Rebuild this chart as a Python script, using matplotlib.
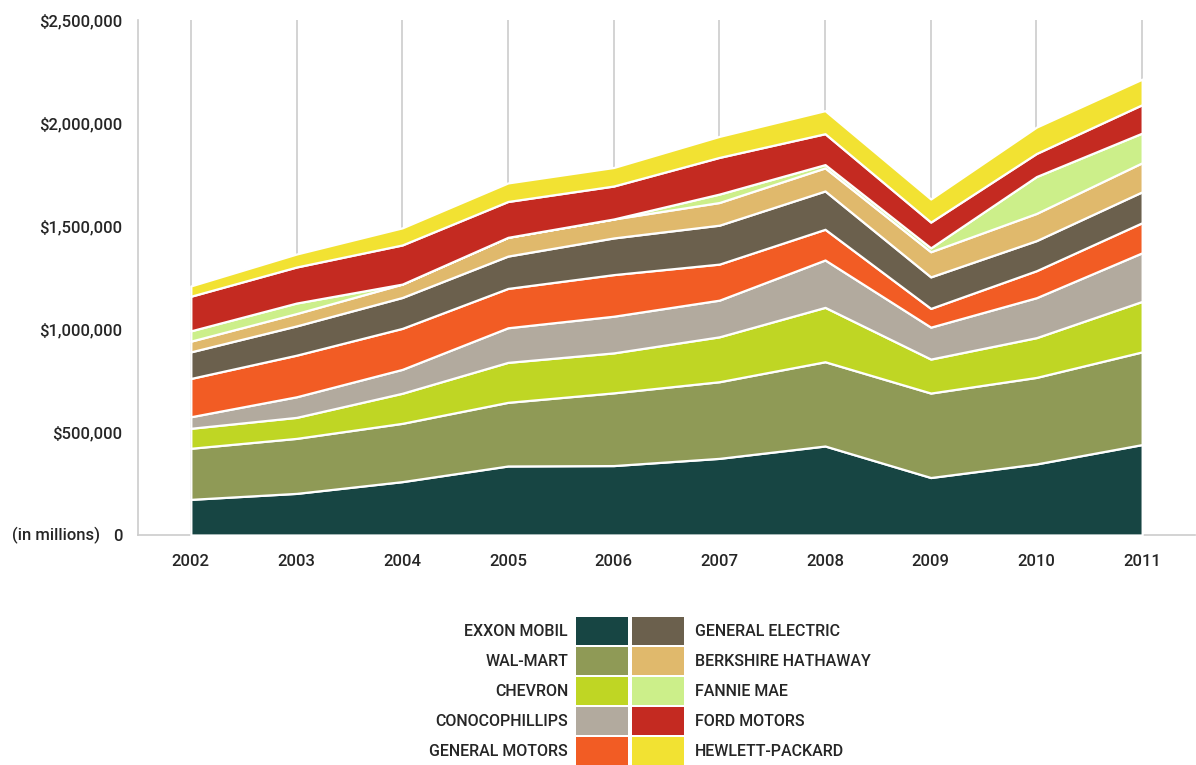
import matplotlib
matplotlib.use("Agg")
import matplotlib.pyplot as plt
from matplotlib.patches import Rectangle
from matplotlib.ticker import FixedLocator

years = [2002, 2003, 2004, 2005, 2006, 2007, 2008, 2009, 2010, 2011]
companies = ["EXXON MOBIL", "WAL-MART", "CHEVRON", "CONOCOPHILLIPS", "GENERAL MOTORS",
             "GENERAL ELECTRIC", "BERKSHIRE HATHAWAY", "FANNIE MAE", "FORD MOTORS", "HEWLETT-PACKARD"]
# revenues, $ millions
exxon     = [173000, 202000, 259000, 335000, 337000, 372000, 432000, 279000, 345000, 439000]
walmart   = [248000, 267000, 283000, 309000, 353000, 372000, 409000, 410000, 420000, 450000]
chevron   = [97000, 102000, 146000, 194000, 194000, 218000, 264000, 165000, 193000, 245000]
conoco    = [56000, 100000, 116000, 168000, 178000, 178000, 230000, 155000, 194000, 236000]
gm        = [186000, 202000, 199000, 191000, 202000, 175000, 149000, 91000, 131000, 146000]
ge        = [129000, 142000, 150000, 157000, 178000, 189000, 186000, 153000, 146000, 150000]
berkshire = [52000, 60000, 65000, 91000, 92000, 110000, 112000, 122000, 132000, 141000]
fannie    = [50000, 51000, 0, 0, 0, 41000, 16000, 19000, 179000, 144000]
ford      = [168000, 175000, 190000, 174000, 160000, 178000, 150000, 125000, 112000, 138000]
hp        = [50000, 63000, 83000, 90000, 90000, 102000, 112000, 112000, 128000, 124000]
series = [exxon, walmart, chevron, conoco, gm, ge, berkshire, fannie, ford, hp]
colors = ["#174543", "#8f9a56", "#bfd624", "#b2aa9e", "#f25c24",
          "#6b604d", "#e0b96c", "#ccef8a", "#c42a21", "#f2e232"]
ytick_vals = [0, 500000, 1000000, 1500000, 2000000, 2500000]
ytick_labels = ["0", "$500,000", "$1,000,000", "$1,500,000", "$2,000,000", "$2,500,000"]

FONT = ["Roboto", "DejaVu Sans"]
TXT = "#262626"
plt.rcParams["font.family"] = FONT
plt.rcParams["font.weight"] = "medium"

W, H = 1196, 765
fig = plt.figure(figsize=(W / 100, H / 100), dpi=100)
ax = fig.add_axes([138 / W, 1 - 535 / H, (1195 - 138) / W, (535 - 20) / H])

ax.vlines(years, 0, 2500000, color="#cccccc", lw=1.2, zorder=0)
ax.stackplot(years, *series, colors=colors, edgecolor="white", linewidth=1.6, zorder=2)

ax.set_xlim(2001.5, 2011.5)
ax.set_ylim(0, 2500000)
ax.xaxis.set_major_locator(FixedLocator(years))
ax.set_xticklabels([str(y) for y in years])
ax.yaxis.set_major_locator(FixedLocator(ytick_vals))
ax.set_yticklabels(ytick_labels)
ax.tick_params(axis="both", length=0, labelsize=12, colors=TXT)
ax.tick_params(axis="x", pad=14)
ax.tick_params(axis="y", pad=11)
for s in ["top", "right"]:
    ax.spines[s].set_visible(False)
for s in ["left", "bottom"]:
    ax.spines[s].set_color("#cccccc")
    ax.spines[s].set_linewidth(1.2)
    ax.spines[s].set_zorder(0)

fig.text(12 / W, 1 - 535 / H, "(in millions)", ha="left", va="center", fontsize=12, color=TXT)

# legend
sq_w, sq_h = 52, 28
x_left, x_right = 576, 632
y0 = 617
pitch = 30
left_names = companies[:5]
right_names = companies[5:]
for i in range(5):
    ytop = y0 + i * pitch
    for j, xl in enumerate([x_left, x_right]):
        idx = i + 5 * j
        fig.patches.append(Rectangle((xl / W, 1 - (ytop + sq_h) / H), sq_w / W, sq_h / H,
                                     transform=fig.transFigure, facecolor=colors[idx],
                                     edgecolor="none"))
    yc = 1 - (ytop + sq_h / 2) / H
    fig.text(568 / W, yc, left_names[i], ha="right", va="center", fontsize=11.5, color=TXT)
    fig.text(695 / W, yc, right_names[i], ha="left", va="center", fontsize=11.5, color=TXT)

fig.savefig("out.png", dpi=100, facecolor="white")
